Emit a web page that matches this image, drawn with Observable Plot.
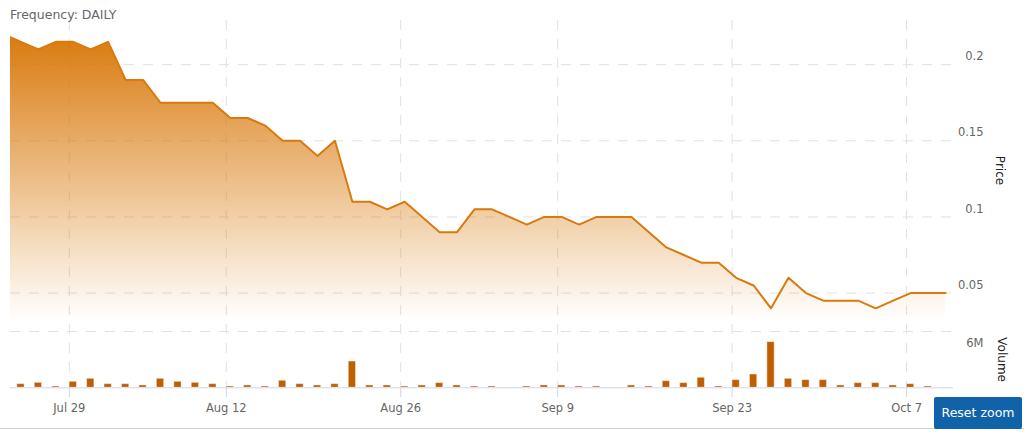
<!DOCTYPE html>
<html>
<head>
<meta charset="utf-8">
<script src="https://cdn.jsdelivr.net/npm/d3@7"></script>
<script src="https://cdn.jsdelivr.net/npm/@observablehq/plot@0.6"></script>
<style>
html, body { margin: 0; padding: 0; background: #fff; }
#chart { position: relative; width: 1024px; height: 433px; overflow: hidden; font-family: "DejaVu Sans", sans-serif; }
#chart svg { position: absolute; left: 0; top: 0; }
#freq { position: absolute; left: 10px; top: 7px; font-size: 12.5px; color: #666; z-index: 3; }
#border { position: absolute; left: 0; right: 0; top: 428px; height: 0; border-top: 1px solid #d0d0d0; }
#reset { position: absolute; left: 934px; top: 397px; width: 88px; height: 32px; background: #1063a8; color: #fff; font-size: 12.5px; line-height: 32px; text-align: center; border-radius: 2px; z-index: 3; }
</style>
</head>
<body>
<div id="chart">
  <div id="border"></div>
  <div id="freq">Frequency: DAILY</div>
  <div id="reset">Reset zoom</div>
</div>
<script>
// Trading days (TSX, 2019) – Jul 23 is just left of the visible window
const dates = [
  "2019-07-23","2019-07-24","2019-07-25","2019-07-26",
  "2019-07-29","2019-07-30","2019-07-31","2019-08-01","2019-08-02",
  "2019-08-06","2019-08-07","2019-08-08","2019-08-09",
  "2019-08-12","2019-08-13","2019-08-14","2019-08-15","2019-08-16",
  "2019-08-19","2019-08-20","2019-08-21","2019-08-22","2019-08-23",
  "2019-08-26","2019-08-27","2019-08-28","2019-08-29","2019-08-30",
  "2019-09-03","2019-09-04","2019-09-05","2019-09-06",
  "2019-09-09","2019-09-10","2019-09-11","2019-09-12","2019-09-13",
  "2019-09-16","2019-09-17","2019-09-18","2019-09-19","2019-09-20",
  "2019-09-23","2019-09-24","2019-09-25","2019-09-26","2019-09-27",
  "2019-09-30","2019-10-01","2019-10-02","2019-10-03","2019-10-04",
  "2019-10-07","2019-10-08","2019-10-09"
];
const prices = [
  0.22, 0.215, 0.21, 0.215,
  0.215, 0.21, 0.215, 0.19, 0.19,
  0.175, 0.175, 0.175, 0.175,
  0.165, 0.165, 0.16, 0.15, 0.15,
  0.14, 0.15, 0.11, 0.11, 0.105,
  0.11, 0.10, 0.09, 0.09, 0.105,
  0.105, 0.10, 0.095, 0.10,
  0.10, 0.095, 0.10, 0.10, 0.10,
  0.09, 0.08, 0.075, 0.07, 0.07,
  0.06, 0.055, 0.04, 0.06, 0.05,
  0.045, 0.045, 0.045, 0.04, 0.045,
  0.05, 0.05, 0.05
];
const volumes = [
  null, 390000, 530000, 140000,
  640000, 960000, 390000, 390000, 250000,
  960000, 640000, 530000, 390000,
  140000, 250000, 140000, 750000, 390000,
  250000, 390000, 2800000, 250000, 250000,
  140000, 250000, 500000, 250000, 140000,
  140000, 0, 140000, 250000,
  250000, 140000, 140000, 0, 250000,
  140000, 710000, 500000, 1070000, 140000,
  820000, 1420000, 4870000, 960000, 820000,
  820000, 250000, 500000, 500000, 250000,
  390000, 140000, 0
];
const tickDates = ["2019-07-29","2019-08-12","2019-08-26","2019-09-09","2019-09-23","2019-10-07"];
const tickLabels = ["Jul 29","Aug 12","Aug 26","Sep 9","Sep 23","Oct 7"];
const priceTicks = [0.05, 0.1, 0.15, 0.2];
const volumeTicks = [6000000];
const priceMin = 0.032, priceMax = 0.229;   // price pane extent
const volumeMax = 6000000;                  // volume pane extent
const viewStart = 0.4, viewEnd = 54.46;     // zoomed window (trading-day index)

const lineColor = "#d97a0d";
const barColor = "#c05f02";
const gridColor = "#e0e0e0";
const tickShift = 0.23;

const rows = dates.map((d, i) => ({i, date: d, price: prices[i], volume: volumes[i]}));
const tickXs = tickDates.map(d => dates.indexOf(d) - tickShift);
const labelByX = new Map(tickXs.map((x, k) => [x, tickLabels[k]]));

const common = {
  width: 1024, height: 433,
  marginTop: 20, marginBottom: 46, marginLeft: 10, marginRight: 71,
  style: {fontFamily: "DejaVu Sans, sans-serif", fontSize: "11.5px", color: "#666", background: "transparent", overflow: "visible"}
};

const pricePlot = Plot.plot({
  ...common,
  x: {domain: [viewStart, viewEnd], axis: null},
  y: {domain: [priceMin, priceMax], range: [320, 20], axis: null},
  marks: [
    Plot.gridX(tickXs, {stroke: gridColor, strokeOpacity: 1, strokeDasharray: "10,9"}),
    Plot.gridY(priceTicks, {stroke: gridColor, strokeOpacity: 1, strokeDasharray: "10,9"}),
    Plot.areaY(rows, {x: "i", y1: priceMin, y2: "price", fill: "url(#priceFill)", clip: true}),
    Plot.lineY(rows, {x: "i", y: "price", stroke: lineColor, strokeWidth: 2, clip: true}),
    Plot.axisY(priceTicks, {anchor: "right", tickSize: 0, tickPadding: 0, textAnchor: "end", dx: 30, dy: -8, fill: "#666", label: null, tickFormat: d => String(d)}),
    Plot.text(["Price"], {y: () => (priceMin + priceMax) / 2, frameAnchor: "right", textAnchor: "middle", dx: 46, rotate: 90, text: d => d, fill: "#222", fontSize: 12})
  ]
});

const ns = "http://www.w3.org/2000/svg";
const defs = document.createElementNS(ns, "defs");
const lg = document.createElementNS(ns, "linearGradient");
lg.setAttribute("id", "priceFill");
lg.setAttribute("x1", "0"); lg.setAttribute("y1", "0");
lg.setAttribute("x2", "0"); lg.setAttribute("y2", "1");
[[0, 1], [1, 0]].forEach(([off, op]) => {
  const s = document.createElementNS(ns, "stop");
  s.setAttribute("offset", off);
  s.setAttribute("stop-color", lineColor);
  s.setAttribute("stop-opacity", op);
  lg.appendChild(s);
});
defs.appendChild(lg);
pricePlot.insertBefore(defs, pricePlot.firstChild);

const volumePlot = Plot.plot({
  ...common,
  x: {domain: [viewStart, viewEnd], axis: null},
  y: {domain: [0, volumeMax], range: [387.3, 331], axis: null},
  marks: [
    Plot.gridY(volumeTicks, {stroke: gridColor, strokeOpacity: 1, strokeDasharray: "10,9"}),
    Plot.rect(rows.filter(d => d.volume > 0), {x1: d => d.i - 0.21, x2: d => d.i + 0.21, y1: 0, y2: "volume", fill: barColor, stroke: "#fff", strokeOpacity: 0.45, strokeWidth: 1, clip: true}),
    Plot.ruleY([0], {stroke: "#ccd6eb"}),
    Plot.axisX(tickXs, {anchor: "bottom", tickSize: 10, tickPadding: 6, stroke: "#ccd6eb", fill: "#666", label: null, tickFormat: x => labelByX.get(x)}),
    Plot.axisY(volumeTicks, {anchor: "right", tickSize: 0, tickPadding: 0, textAnchor: "end", dx: 30, dy: 12, fill: "#666", label: null, tickFormat: d => d / 1e6 + "M"}),
    Plot.text(["Volume"], {y: () => volumeMax / 2, frameAnchor: "right", textAnchor: "middle", dx: 48, rotate: 90, text: d => d, fill: "#222", fontSize: 12})
  ]
});

const chart = document.getElementById("chart");
chart.insertBefore(volumePlot, chart.firstChild);
chart.insertBefore(pricePlot, chart.firstChild);
</script>
</body>
</html>
